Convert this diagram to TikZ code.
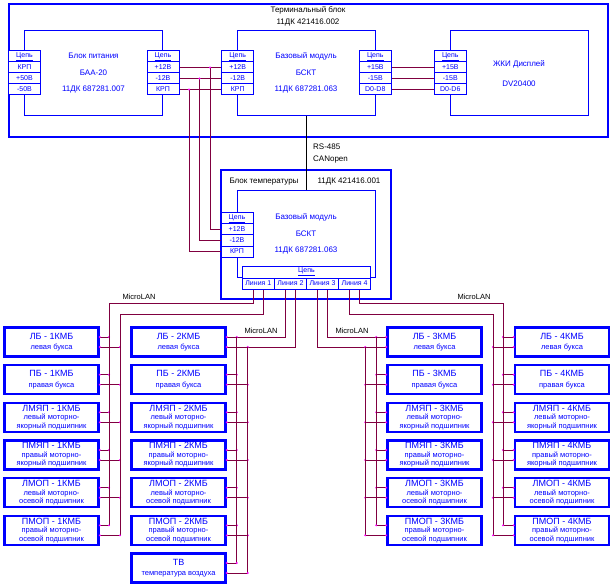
\documentclass[tikz,border=0pt]{standalone}
\usepackage{fontspec}
\setmainfont{Liberation Sans}
\usetikzlibrary{positioning}
\definecolor{schblue}{RGB}{0,0,255}
\definecolor{wirered}{RGB}{128,0,64}
\definecolor{jointpink}{RGB}{255,0,255}

\newcommand{\boxhead}{\fontsize{9}{9}\selectfont}

\tikzset{
  modbox/.style={draw=schblue, line width=1pt, text=schblue, align=center,
    inner sep=0pt, font=\fontsize{8}{16.5}\selectfont},
  thickbox/.style={draw=schblue, line width=2.2pt},
  pincell/.style={draw=schblue, fill=white, line width=1pt, text=schblue,
    minimum width=32pt, minimum height=11pt, inner sep=0pt,
    font=\fontsize{7}{7}\selectfont},
  sensbox/.style={draw=schblue, line width=2.6pt, text=schblue,
    minimum width=94pt, minimum height=29pt, inner sep=0pt, align=center,
    font=\fontsize{7.5}{8.6}\selectfont},
  wire/.style={draw=wirered, line width=1pt},
  joint/.style={fill=jointpink},
  caption/.style={text=black, inner sep=0pt, align=center,
    font=\fontsize{8}{12}\selectfont},
}

% column of pins: name, left x, top y, labels
\newcommand{\pincol}[4]{%
  \foreach \lab [count=\pn] in {#4}
    \node[pincell] (#1\pn) at ({#2+16},{#3+5.5+11*(\pn-1)}) {\lab};
}

\begin{document}
\begin{tikzpicture}[x=1pt, y=-1pt]
\useasboundingbox (0,0) rectangle (613,588);

% Терминальный блок
\draw[thickbox] (9,4) rectangle (608,137);
\node[caption] (term) at (308,16) {Терминальный блок\\11ДК 421416.002};

\node[modbox, minimum width=138pt, minimum height=85.5pt] (pw) at (93.5,73.25)
  {Блок питания\\БАА-20\\11ДК 687281.007};
\node[modbox, minimum width=138pt, minimum height=85.5pt] (bm) at (306,73.25)
  {Базовый модуль\\БСКТ\\11ДК 687281.063};
\node[modbox, minimum width=138pt, minimum height=85.5pt] (ds) at (519,73.25)
  {ЖКИ Дисплей\\[3.5pt]DV20400};

\pincol{pwL}{8.5}{51}{{\underline{Цепь}},КРП,+50В,-50В}
\pincol{pwR}{147}{51}{{\underline{Цепь}},+12В,-12В,КРП}
\pincol{bmL}{221.7}{51}{{\underline{Цепь}},+12В,-12В,КРП}
\pincol{bmR}{359.3}{51}{{\underline{Цепь}},+15В,-15В,D0-D8}
\pincol{dsL}{434.3}{51}{{\underline{Цепь}},+15В,-15В,D0-D6}

\foreach \pn in {2,3,4} {
  \draw[wire] (pwR\pn.east) -- (bmL\pn.west);
  \draw[wire] (bmR\pn.east) -- (dsL\pn.west);
}

% Блок температуры
\draw[thickbox] (221,170) rectangle (391,299);
\node[caption] (tbcap) at (264,182) {Блок температуры};
\node[caption] (tbnum) at (349,182) {11ДК 421416.001};
\node[modbox, minimum width=138pt, minimum height=86pt] (tbm) at (306,234)
  {Базовый модуль\\БСКТ\\11ДК 687281.063};
\pincol{tbL}{221}{213}{{\underline{Цепь}},+12В,-12В,КРП}
\node[pincell, minimum width=128.5pt, minimum height=12pt] (lnh) at (306.5,272)
  {\underline{Цепь}};
\foreach \pn in {1,...,4}
  \node[pincell, minimum width=32.1pt] (ln\pn) at ({258.35+32.1*(\pn-1)},283.5)
    {Линия \pn};

\draw[black, line width=1pt] (bm.south) -- (tbm.north);
\node[caption, anchor=west] (rs) at (313,147) {RS-485};
\node[caption, anchor=west] (can) at (313,160) {CANopen};

% питание
\coordinate (j1) at (210,67.5);
\coordinate (j2) at (199.5,78.5);
\coordinate (j3) at (189,89.5);
\draw[wire] (j1) |- (tbL2.west);
\draw[wire] (j2) |- (tbL3.west);
\draw[wire] (j3) |- (tbL4.west);
\foreach \pn in {1,2,3}
  \fill[joint] (j\pn) circle (1.2pt);

% датчики
\foreach \cn/\xc/\sd in {1/51.5/east, 2/178.5/east, 3/434.5/west, 4/562/west} {
  \foreach \rw/\txt in {
      1/{{\boxhead ЛБ - \cn КМБ}\\[2pt]левая букса},
      2/{{\boxhead ПБ - \cn КМБ}\\[2pt]правая букса},
      3/{{\boxhead ЛМЯП - \cn КМБ}\\левый моторно-\\якорный подшипник},
      4/{{\boxhead ПМЯП - \cn КМБ}\\правый моторно-\\якорный подшипник},
      5/{{\boxhead ЛМОП - \cn КМБ}\\левый моторно-\\осевой подшипник},
      6/{{\boxhead ПМОП - \cn КМБ}\\правый моторно-\\осевой подшипник}} {
    \node[sensbox] (b\cn\rw) at ({\xc},{342+37.67*(\rw-1)}) {\txt};
    \coordinate (u\cn\rw) at ([yshift=5pt]b\cn\rw.\sd);
    \coordinate (l\cn\rw) at ([yshift=-5pt]b\cn\rw.\sd);
  }
}
\node[sensbox] (b27) at (178.5,568) {{\boxhead ТВ}\\[2pt]температура воздуха};
\coordinate (u27) at ([yshift=5pt]b27.east);
\coordinate (l27) at ([yshift=-5pt]b27.east);

% MicroLAN
\coordinate (c1a) at (109,303);
\coordinate (c1b) at (120,314);
\coordinate (c2a) at ([xshift=10pt]u21);
\coordinate (c2b) at ([xshift=21pt]l21);
\coordinate (c3a) at ([xshift=-10pt]u31);
\coordinate (c3b) at ([xshift=-21pt]l31);
\coordinate (c4a) at (503,303);
\coordinate (c4b) at (493,314);

\draw[wire] ([xshift=-5pt]ln1.south) |- (c1a);
\draw[wire] ([xshift=5pt]ln1.south) |- (c1b);
\draw[wire] ([xshift=-5pt]ln2.south) |- (u21);
\draw[wire] ([xshift=5pt]ln2.south) |- (l21);
\draw[wire] ([xshift=5pt]ln3.south) |- (u31);
\draw[wire] ([xshift=-5pt]ln3.south) |- (l31);
\draw[wire] ([xshift=5pt]ln4.south) |- (c4a);
\draw[wire] ([xshift=-5pt]ln4.south) |- (c4b);

\foreach \cn/\last in {1/6, 2/7, 3/6, 4/6}
  \foreach \rw in {1,...,\last} {
    \draw[wire] (u\cn\rw) -| (c\cn a);
    \draw[wire] (l\cn\rw) -| (c\cn b);
    \fill[joint] (u\cn\rw -| c\cn a) circle (1.1pt);
    \fill[joint] (l\cn\rw -| c\cn b) circle (1.1pt);
    \fill[joint] (u\cn\rw) circle (1.1pt);
    \fill[joint] (l\cn\rw) circle (1.1pt);
  }

\node[caption, font=\fontsize{7.5}{9}\selectfont] (ml1) at (139,297) {MicroLAN};
\node[caption, font=\fontsize{7.5}{9}\selectfont] (ml2) at (261,331) {MicroLAN};
\node[caption, font=\fontsize{7.5}{9}\selectfont] (ml3) at (352,331) {MicroLAN};
\node[caption, font=\fontsize{7.5}{9}\selectfont] (ml4) at (474,297) {MicroLAN};
\end{tikzpicture}
\end{document}
